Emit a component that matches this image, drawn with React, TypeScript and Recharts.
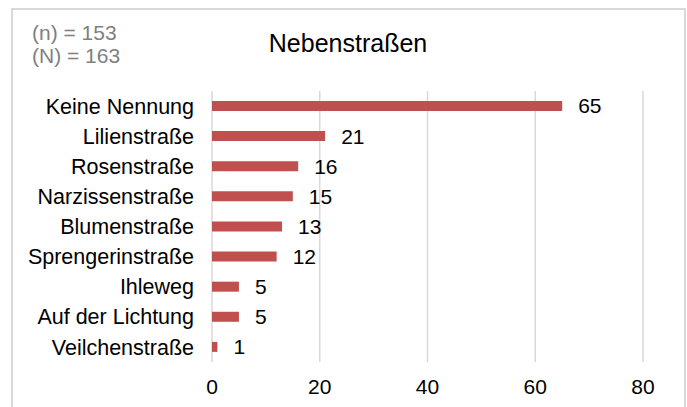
import React from "react";
import { BarChart, Bar, XAxis, YAxis, CartesianGrid, LabelList } from "recharts";

const categories = [
  "Keine Nennung",
  "Lilienstraße",
  "Rosenstraße",
  "Narzissenstraße",
  "Blumenstraße",
  "Sprengerinstraße",
  "Ihleweg",
  "Auf der Lichtung",
  "Veilchenstraße",
];
const values = [65, 21, 16, 15, 13, 12, 5, 5, 1];
const xTicks = [0, 20, 40, 60, 80];
const title = "Nebenstraßen";
const noteLines = ["(n) = 153", "(N) = 163"];

const data = categories.map((name, i) => ({ name, value: values[i] }));

const FONT = "'Liberation Sans', Arial, Helvetica, sans-serif";

export default function App() {
  return (
    <div
      style={{
        position: "fixed",
        left: 0,
        top: 0,
        width: 687,
        height: 407,
        overflow: "hidden",
        background: "#fff",
        fontFamily: FONT,
      }}
    >
      <div
        style={{
          position: "absolute",
          left: 11,
          top: 8,
          width: 671,
          height: 405,
          borderTop: "2px solid #d9d9d9",
          borderLeft: "2px solid #d9d9d9",
          borderRight: "2px solid #d9d9d9",
        }}
      />
      <div style={{ position: "absolute", left: 0, top: 0 }}>
        <BarChart
          width={687}
          height={407}
          data={data}
          layout="vertical"
          margin={{ top: 91, right: 44, bottom: 0, left: 0 }}
        >
          <CartesianGrid horizontal={false} vertical={true} stroke="#d9d9d9" strokeWidth={1.5} />
          <XAxis
            type="number"
            domain={[0, 80]}
            ticks={xTicks}
            axisLine={false}
            tickLine={false}
            tickMargin={11}
            height={45}
            tick={{ fill: "#000", fontSize: 21, fontFamily: FONT }}
            interval={0}
          />
          <YAxis
            type="category"
            dataKey="name"
            width={212}
            axisLine={false}
            tickLine={false}
            tickMargin={12}
            tick={{ fill: "#000", fontSize: 21.5, fontFamily: FONT }}
            interval={0}
          />
          <Bar dataKey="value" fill="#C0504D" barSize={10} isAnimationActive={false}>
            <LabelList
              dataKey="value"
              position="right"
              offset={16}
              style={{ fill: "#000", fontSize: 21, fontFamily: FONT }}
            />
          </Bar>
        </BarChart>
      </div>
      <svg
        width={687}
        height={407}
        style={{ position: "absolute", left: 0, top: 0, pointerEvents: "none" }}
      >
        <text x={32} y={40} fontSize={21} fill="#808080" fontFamily={FONT}>
          {noteLines[0]}
        </text>
        <text x={32} y={63} fontSize={21} fill="#808080" fontFamily={FONT}>
          {noteLines[1]}
        </text>
        <text x={348} y={52} fontSize={25} fill="#000" textAnchor="middle" fontFamily={FONT}>
          {title}
        </text>
      </svg>
    </div>
  );
}
